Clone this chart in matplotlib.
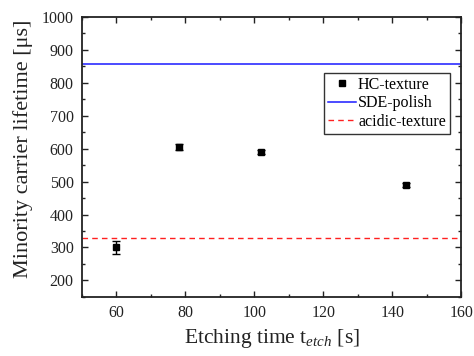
import matplotlib
matplotlib.use('Agg')

import matplotlib.pyplot as plt
from matplotlib.ticker import MultipleLocator

plt.rcParams['font.family'] = ['Liberation Serif', 'DejaVu Serif']
plt.rcParams['mathtext.fontset'] = 'custom'
plt.rcParams['mathtext.rm'] = 'Liberation Serif'
plt.rcParams['mathtext.it'] = 'Liberation Serif:italic'

# data
etch_time = [60, 78, 102, 144]
lifetime = [301, 605, 589, 489]
lifetime_err = [20, 9, 6, 6]
sde_polish = 856
acidic_texture = 330

fig = plt.figure(figsize=(4.74, 3.56), dpi=100)
ax = fig.add_axes([0.173, 0.166, 0.8, 0.787])

ax.errorbar(etch_time, lifetime, yerr=lifetime_err, fmt='none', ecolor='black',
            capsize=3, elinewidth=1, capthick=1, zorder=3)
ax.plot(etch_time, lifetime, 's', color='black', markersize=5,
        label='HC-texture', zorder=4)
ax.axhline(sde_polish, color='#1a1aff', lw=1.1, label='SDE-polish')
ax.axhline(acidic_texture, color='#ff2020', lw=1.0, ls=(0, (4, 3)),
           label='acidic-texture')

ax.set_xlim(50, 160)
ax.set_ylim(150, 1000)
ax.xaxis.set_major_locator(MultipleLocator(20))
ax.xaxis.set_minor_locator(MultipleLocator(10))
ax.yaxis.set_minor_locator(MultipleLocator(50))
ax.set_yticks(range(200, 1001, 100))

ax.tick_params(which='both', direction='in', top=True, right=True,
               labelsize=11.5, width=1.0, colors='#222222')
ax.tick_params(which='major', length=4, pad=6)
ax.tick_params(which='minor', length=2.5)
for s in ax.spines.values():
    s.set_linewidth(1.3)
    s.set_color('#222222')

ax.set_xlabel(r'Etching time t$_{etch}$ [s]', fontsize=15.5, color='#222222')
ax.set_ylabel(u'Minority carrier lifetime [\u03bcs]', fontsize=16,
              color='#222222', labelpad=6)
ax.yaxis.label.set_y(0.527)

leg = ax.legend(loc='upper right', bbox_to_anchor=(0.97, 0.80), fontsize=11.5,
                frameon=True, fancybox=False, edgecolor='black',
                borderpad=0.25, labelspacing=0.15, handlelength=1.8,
                handletextpad=0.1, borderaxespad=0)
leg.get_frame().set_linewidth(1.0)

fig.savefig('out.png', dpi=100)
